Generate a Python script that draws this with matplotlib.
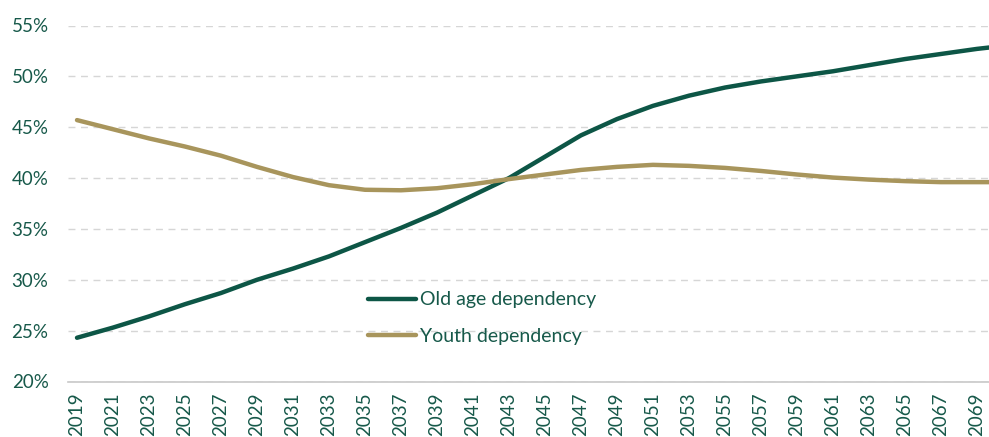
import matplotlib
matplotlib.use("Agg")
import matplotlib.pyplot as plt
from matplotlib.ticker import FuncFormatter, MultipleLocator

plt.rcParams['font.family'] = ['Lato', 'DejaVu Sans']

years = [2019, 2021, 2023, 2025, 2027, 2029, 2031, 2033, 2035, 2037, 2039,
         2041, 2043, 2045, 2047, 2049, 2051, 2053, 2055, 2057, 2059, 2061,
         2063, 2065, 2067, 2069, 2070]
old_age = [24.3, 25.3, 26.4, 27.6, 28.7, 30.0, 31.1, 32.3, 33.7, 35.1, 36.6,
           38.3, 40.0, 42.1, 44.2, 45.8, 47.1, 48.1, 48.9, 49.5, 50.0, 50.5,
           51.1, 51.7, 52.2, 52.7, 52.9]
youth = [45.7, 44.8, 43.9, 43.1, 42.2, 41.1, 40.1, 39.3, 38.85, 38.8, 39.0,
         39.4, 39.9, 40.35, 40.8, 41.1, 41.3, 41.2, 41.0, 40.7, 40.35, 40.05,
         39.85, 39.7, 39.6, 39.6, 39.6]
tick_years = list(range(2019, 2070, 2))

GREEN = '#0D5646'
GOLD = '#A8955C'
TEXT = '#17594A'

fig = plt.figure(figsize=(9.89, 4.37), dpi=100)
ax = fig.add_axes([68 / 989, (437 - 381.5) / 437, 1 - 68 / 989, (381.5 - 25.5) / 437])

ax.plot(years, old_age, color=GREEN, lw=3.2, solid_capstyle='round', label='Old age dependency')
ax.plot(years, youth, color=GOLD, lw=3.2, solid_capstyle='round', label='Youth dependency')

ax.set_ylim(20, 55)
ax.set_xlim(2018.5, 2069.67)
ax.yaxis.set_major_locator(MultipleLocator(5))
ax.yaxis.set_major_formatter(FuncFormatter(lambda v, p: f'{v:.0f}%'))
ax.set_xticks(tick_years)
ax.set_xticklabels([str(y) for y in tick_years], rotation=90)

ax.grid(axis='y', color='#D6D6D6', linestyle=(0, (5, 4)), lw=1.0)
ax.set_axisbelow(True)
for s in ['top', 'right', 'left']:
    ax.spines[s].set_visible(False)
ax.spines['bottom'].set_color('#C8C8C8')
ax.spines['bottom'].set_linewidth(1.2)
ax.tick_params(axis='both', length=0, colors=TEXT, labelsize=13.5)
ax.tick_params(axis='y', pad=14)
ax.tick_params(axis='x', pad=8)

leg = ax.legend(loc='upper left', bbox_to_anchor=(350 / 989, 1 - 274 / 437),
                bbox_transform=fig.transFigure, frameon=False, fontsize=14,
                handlelength=2.5, handletextpad=0.2, labelspacing=1.0)
for t in leg.get_texts():
    t.set_color(TEXT)

fig.savefig('out.png', dpi=100)
